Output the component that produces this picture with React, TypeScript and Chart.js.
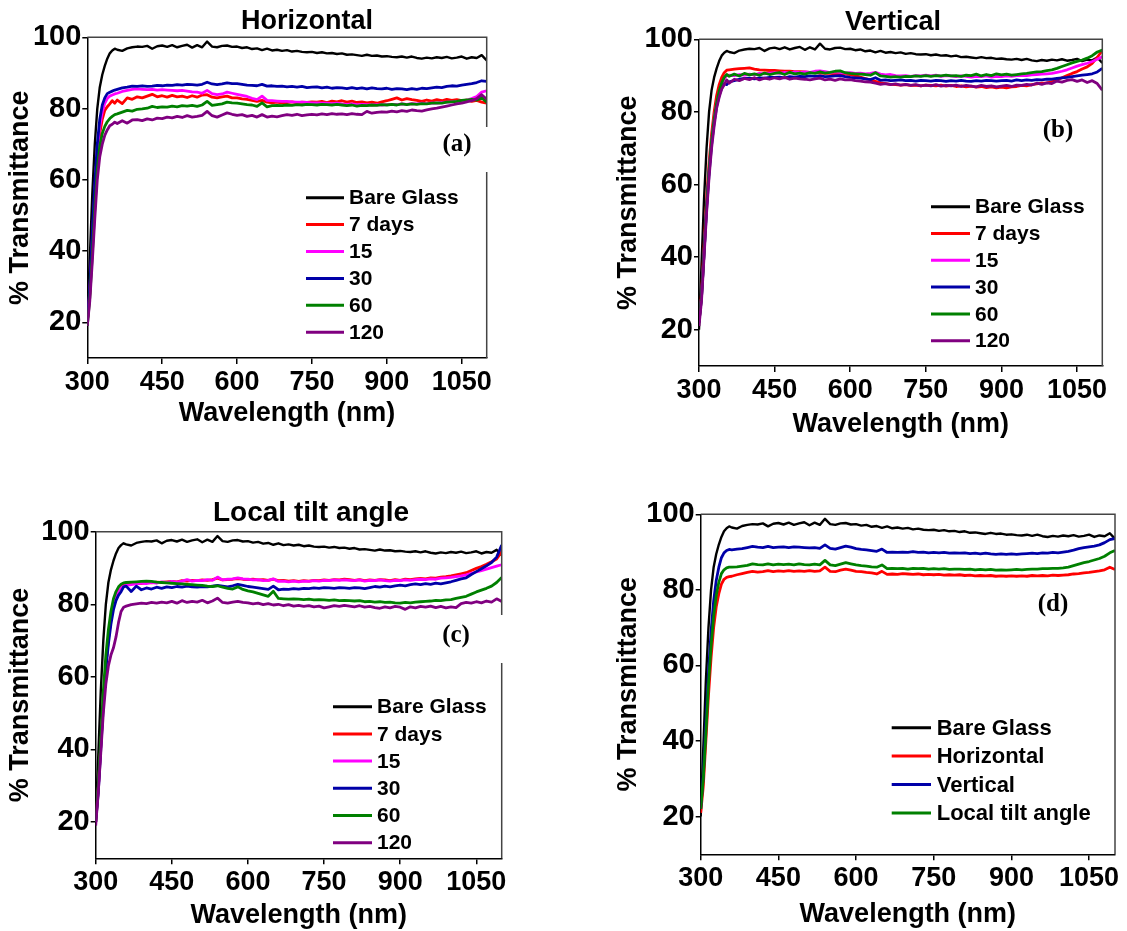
import React, { useEffect, useRef } from 'react';
import { Chart, registerables } from 'chart.js';

Chart.register(...registerables);

// ---------------- DATA ----------------
const WAVELENGTH = [
  300, 305, 310, 315, 320, 325, 330, 335, 340, 345, 350, 355, 360,
  370, 380, 390, 400, 410, 420, 430, 440, 450,
  460, 470, 480, 490, 500, 510, 520, 530, 540, 550,
  560, 570, 580, 590, 600, 610, 620, 630, 640, 650,
  660, 670, 680, 690, 700, 710, 720, 730, 740, 750,
  760, 770, 780, 790, 800, 810, 820, 830, 840, 850,
  860, 870, 880, 890, 900, 910, 920, 930, 940, 950,
  960, 970, 980, 990, 1000, 1010, 1020, 1030, 1040, 1050,
  1060, 1070, 1080, 1090, 1100,
];

const BARE_GLASS = [
  20, 38, 56, 70, 80, 86, 89.5, 92, 94, 95.5, 96.3, 96.8, 96.5,
  96.2, 96.9, 97.2, 97.4, 97.3, 97.6, 96.8, 97.5, 97.7,
  97.3, 97.8, 97.2, 97.6, 97.9, 97.1, 97.8, 97.2, 98.8, 97.4,
  97.2, 97.6, 97.7, 97.3, 97.4, 97.0, 97.2, 96.7, 96.9, 96.4,
  96.8, 96.3, 96.5, 96.2, 96.4, 96.0, 96.2, 95.9, 95.8, 95.9,
  95.6, 95.8, 95.5, 95.6, 95.3, 95.5, 95.1, 95.2, 95.0, 94.8,
  95.1, 94.8, 94.9, 94.6, 94.7, 94.5, 94.4, 94.6, 94.3, 94.6,
  94.2, 94.0, 94.3, 94.1, 94.4, 94.2, 94.5, 94.1, 94.3, 94.6,
  94.0, 94.4, 94.2, 95.0, 93.5,
];

// (a) Horizontal
const H_7_DAYS = [
  20, 28, 41, 55, 66, 73, 77, 79.5, 80.5, 81.3, 82.2, 81.5, 82.4,
  81.4, 83.0, 82.6, 83.3, 83.0, 83.5, 84.0, 83.3, 83.6,
  83.2, 83.7, 83.3, 83.5, 83.1, 83.6, 83.2, 83.8, 83.9, 83.2,
  83.0, 83.3, 83.5, 83.0, 83.0, 82.7, 82.6, 82.3, 82.0, 82.3,
  81.8, 81.6, 81.8, 81.5, 81.7, 81.9, 81.6, 81.8, 81.7, 81.9,
  81.8, 82.0, 81.7, 82.1, 81.9, 82.2, 81.8, 82.1, 81.7, 81.9,
  81.6, 81.8, 81.5, 81.9, 82.2, 82.6, 83.0, 82.4, 82.8, 82.5,
  82.3, 82.0, 82.4, 82.1, 82.5, 82.2, 82.6, 82.3, 82.5, 82.2,
  82.4, 82.0, 82.3, 81.8, 81.5,
];
const H_15 = [
  20, 29, 43, 57, 68, 75, 79, 81.5, 82.8, 83.5, 83.8, 84.1, 84.3,
  84.8, 85.1, 85.4, 85.5, 85.4, 85.3, 85.4, 85.2, 85.3,
  85.2, 85.1, 85.0, 85.1, 84.9, 84.7, 84.6, 84.3, 85.1, 84.2,
  83.9, 84.1, 84.6, 84.3, 84.0, 83.7, 83.4, 82.9, 82.5, 83.5,
  82.3, 82.2, 82.1, 82.0, 82.0, 81.9, 81.8, 81.8, 81.7, 81.6,
  81.6, 81.5, 81.5, 81.4, 81.5, 81.3, 81.2, 81.3, 81.1, 81.2,
  81.1, 81.0, 81.1, 81.0, 81.1, 81.2, 81.1, 81.3, 81.2, 81.4,
  81.3, 81.5, 81.4, 81.6, 81.5, 81.7, 81.8, 81.9, 82.0, 82.1,
  82.4, 82.8, 83.4, 84.6, 85.0,
];
const H_30 = [
  20, 30, 45, 59, 70, 77, 81, 83, 84.2, 84.6, 84.9, 85.2, 85.4,
  85.8, 86.0, 86.3, 86.2, 86.4, 86.2, 86.3, 86.5, 86.4,
  86.6, 86.5, 86.7, 86.6, 86.8, 86.7, 86.6, 86.8, 87.4, 86.9,
  86.7, 86.9, 87.2, 87.0, 87.0, 86.8, 86.6, 86.5, 86.4, 86.8,
  86.3, 86.4, 86.2, 86.3, 86.1, 86.2, 86.0, 86.2, 85.9, 86.0,
  86.1, 85.8, 86.0, 85.7, 85.9, 85.8, 85.6, 85.9, 85.6, 85.8,
  85.5, 85.8, 85.6, 85.5, 85.7, 85.4, 85.6, 85.5, 85.3, 85.6,
  85.4, 85.7, 85.6, 85.8, 86.0, 85.9, 86.2, 86.4, 86.3, 86.6,
  86.8, 87.0, 87.3, 87.8, 87.6,
];
const H_60 = [
  19, 27, 39, 52, 63, 69.5, 73, 75, 76.3, 77.2, 77.8, 78.3, 78.5,
  79.0, 79.5, 79.3, 79.8, 79.9, 80.1, 80.6, 80.3, 80.5,
  80.4, 80.7, 80.5, 80.8, 80.7, 80.9, 80.6, 81.0, 82.0, 80.9,
  81.1, 81.3, 81.8, 81.6, 81.5, 81.3, 81.1, 81.0, 80.6, 81.6,
  80.5, 80.8, 80.9, 80.8, 81.0, 80.9, 81.1, 81.0, 81.2, 81.1,
  81.0, 81.2, 81.1, 81.0, 81.2, 81.0, 80.8, 81.0, 80.7, 80.9,
  80.8, 81.0, 80.9, 81.1, 81.0, 81.2, 81.0, 81.3, 81.1, 81.3,
  81.2, 81.4, 81.3, 81.5, 81.6, 81.5, 81.8, 81.9, 82.0, 82.3,
  82.4, 82.6, 82.4, 83.0, 81.8,
];
const H_120 = [
  19, 26, 37, 49, 60, 66.5, 70, 72.5, 74, 75.2, 75.6, 76.2, 75.8,
  76.6, 75.9, 76.8, 76.9, 76.6, 77.1, 76.8, 77.3, 77.2,
  77.6, 77.4, 77.8, 77.5, 78.0, 77.6, 77.8, 78.1, 79.2, 78.0,
  77.6, 78.2, 78.8, 78.4, 78.1, 78.3, 77.8, 78.1, 77.6, 78.3,
  77.6, 77.9, 77.7, 78.0, 78.3, 78.1, 78.4, 78.0, 78.2, 78.4,
  78.2, 78.5, 78.3, 78.6, 78.4, 78.5, 78.3, 78.6, 78.4, 78.3,
  79.2, 78.7, 78.9, 79.1, 79.0, 79.3, 79.1, 79.4, 79.2, 79.6,
  79.4, 79.3, 79.6, 79.9, 80.1, 80.4, 80.7, 81.0, 81.3, 81.5,
  81.9, 82.2, 82.8, 83.9, 82.6,
];

// (b) Vertical
const V_7_DAYS = [
  22, 30, 43, 56, 66, 74, 80, 84.5, 87.5, 89.5, 90.8, 91.5, 91.6,
  91.8, 91.9, 92.0, 92.1, 91.8, 91.6, 91.5, 91.4, 91.4,
  91.3, 91.2, 91.2, 91.1, 91.1, 91.0, 90.9, 90.8, 90.7, 90.6,
  90.6, 90.5, 90.5, 90.4, 90.3, 90.0, 89.6, 89.2, 88.8, 88.4,
  88.0, 87.8, 87.6, 87.5, 87.4, 87.5, 87.3, 87.4, 87.2, 87.4,
  87.3, 87.2, 87.4, 87.1, 87.3, 87.0, 87.2, 86.9, 87.1, 86.8,
  87.0, 86.7, 86.9, 86.6, 86.8, 86.6, 86.9, 87.0, 87.3, 87.2,
  87.5, 87.7, 87.9, 88.0, 88.3, 88.8, 89.4, 90.0, 90.6, 91.1,
  91.8, 92.4, 93.4, 95.0, 97.0,
];
const V_15 = [
  22, 29, 41, 54, 64, 72, 78, 82.5, 85.5, 87.8, 89.2, 90.0, 90.1,
  90.0, 90.3, 90.1, 90.4, 90.2, 90.6, 90.5, 90.7, 90.8,
  90.6, 90.9, 90.7, 91.0, 90.8, 91.0, 90.9, 91.2, 91.3, 91.1,
  90.8, 91.0, 90.9, 90.7, 90.8, 90.6, 90.7, 90.5, 90.6, 90.9,
  90.4, 90.2, 90.3, 90.0, 89.9, 90.0, 89.8, 90.0, 89.9, 90.1,
  89.9, 90.1, 89.8, 90.0, 89.9, 89.7, 89.9, 89.8, 89.6, 89.8,
  89.7, 89.9, 89.6, 89.8, 89.7, 89.9, 89.8, 90.0, 90.1, 90.0,
  90.2, 90.3, 90.4, 90.5, 90.6, 90.9, 91.2, 91.6, 92.1, 92.6,
  93.0, 93.4, 93.9, 94.5, 95.2,
];
const V_30 = [
  22, 29, 41, 53, 63, 71, 77, 81.5, 84.5, 86.5, 87.8, 87.5, 88.3,
  88.6, 89.0, 89.2, 89.3, 89.1, 89.4, 89.3, 89.5, 89.5,
  89.6, 89.4, 89.7, 89.6, 89.8, 89.7, 89.9, 89.8, 89.9, 89.7,
  89.8, 89.9, 90.0, 89.7, 89.5, 89.4, 89.3, 89.1, 88.9, 89.4,
  88.7, 88.8, 88.6, 88.7, 88.8, 88.6, 88.7, 88.5, 88.7, 88.6,
  88.5, 88.7, 88.6, 88.4, 88.6, 88.5, 88.7, 88.5, 88.4, 88.6,
  88.5, 88.7, 88.6, 88.5, 88.6, 88.7, 88.5, 88.8, 88.6, 88.8,
  88.7, 88.9, 88.8, 89.0, 89.0, 89.2, 89.4, 89.5, 89.7, 89.9,
  90.1, 90.3, 90.5, 91.0, 92.0,
];
const V_60 = [
  22, 29, 41, 54, 64, 72, 78, 82.5, 85.8, 88, 89.5, 90.3, 89.8,
  90.4, 89.9, 90.6, 90.2, 90.5, 90.1, 90.7, 90.3, 90.6,
  90.8, 90.3, 90.9, 90.5, 90.7, 90.4, 90.8, 90.6, 91.0, 90.7,
  90.9, 91.2, 91.3, 90.8, 90.6, 90.5, 90.4, 90.3, 90.1, 90.8,
  89.9, 89.8, 89.6, 89.7, 89.6, 89.8, 89.7, 89.9, 89.8, 90.0,
  89.8, 90.0, 89.9, 90.1, 89.9, 90.0, 89.8, 90.1, 90.0, 90.4,
  89.9, 90.3, 90.0, 90.5, 90.2, 90.4, 90.1, 90.3, 90.5, 90.6,
  90.8, 91.0, 91.1, 91.4, 91.6, 92.0, 92.5, 93.0, 93.5, 93.9,
  94.3, 94.8, 95.5, 96.5, 97.0,
];
const V_120 = [
  21, 28, 40, 52, 62, 70, 76, 81, 84, 86.3, 87.5, 88.8, 87.9,
  89.0, 88.6, 89.2, 88.9, 89.4, 88.8, 89.3, 89.0, 89.4,
  89.1, 89.5, 89.0, 89.3, 89.1, 89.0, 88.8, 89.1, 89.3, 88.8,
  89.0, 88.7, 89.1, 88.8, 88.9, 88.6, 88.5, 88.3, 88.2, 87.9,
  87.6, 87.8, 87.5, 87.7, 87.4, 87.6, 87.3, 87.5, 87.2, 87.4,
  87.2, 87.5, 87.1, 87.3, 87.2, 87.4, 87.0, 87.3, 87.1, 86.9,
  87.3, 87.0, 87.2, 86.9, 87.1, 87.3, 87.0, 87.4, 87.3, 87.6,
  87.4, 87.9, 87.6, 88.0, 87.8, 88.5, 88.2, 88.7, 88.9, 88.4,
  88.8, 88.1, 88.6, 87.8, 86.0,
];

// (c) Local tilt angle
const T_7_DAYS = [
  20, 29, 41, 53, 63, 70.5, 76, 80, 82.5, 84, 84.8, 85.2, 85.4,
  85.6, 85.8, 85.7, 86.0, 85.9, 86.1, 86.0, 86.2, 86.3,
  86.2, 86.5, 86.4, 86.6, 86.5, 86.7, 86.6, 86.8, 87.2, 86.7,
  86.8, 86.9, 87.1, 86.9, 86.8, 86.9, 86.7, 86.8, 86.6, 86.9,
  86.5, 86.6, 86.4, 86.5, 86.3, 86.5, 86.4, 86.6, 86.5, 86.7,
  86.6, 86.8, 86.7, 86.9, 86.8, 86.6, 86.8, 86.5, 86.7, 86.6,
  86.8, 86.7, 86.5, 86.8, 86.6, 86.9, 86.8, 87.0, 87.1, 87.0,
  87.3, 87.2, 87.5, 87.6, 87.8, 88.1, 88.4, 88.7, 89.3, 89.9,
  90.4, 91.0, 91.7, 92.5, 94.5,
];
const T_15 = [
  20, 29, 41, 53, 63, 70.5, 76, 80, 82.5, 83.9, 84.6, 85.0, 85.2,
  85.4, 85.6, 85.8, 85.7, 86.0, 85.8, 86.2, 86.0, 86.3,
  86.1, 86.4, 86.8, 86.4, 86.6, 86.5, 86.8, 86.6, 87.5, 86.7,
  86.9, 87.0, 87.3, 87.0, 86.9, 86.7, 86.8, 86.5, 86.6, 87.0,
  86.3, 86.4, 86.2, 86.4, 86.2, 86.4, 86.3, 86.5, 86.4, 86.6,
  86.5, 86.7, 86.6, 86.7, 86.6, 86.5, 86.7, 86.4, 86.6, 86.5,
  86.7, 86.5, 86.4, 86.6, 86.5, 86.7, 86.6, 86.8, 86.9, 86.8,
  87.0, 86.9, 87.2, 87.3, 87.4, 87.6, 87.8, 88.1, 88.5, 88.9,
  89.3, 89.7, 90.1, 90.5, 90.9,
];
const T_30 = [
  20, 28, 40, 52, 62, 69, 74.5, 78.5, 81, 82.5, 83.5, 84.8, 85.0,
  83.5, 85.0, 84.0, 84.5, 84.2, 84.7, 84.4, 84.8, 84.6,
  84.9, 84.7, 85.0, 84.8, 84.7, 84.9, 84.8, 85.0, 85.2, 85.0,
  84.8, 85.1, 85.5, 85.2, 84.9, 84.7, 84.5, 84.3, 84.1, 85.0,
  84.0, 84.2, 84.1, 84.3, 84.2, 84.4, 84.3, 84.5, 84.4, 84.6,
  84.5, 84.4, 84.6, 84.5, 84.4, 84.6, 84.5, 84.3, 84.6, 84.9,
  84.7, 85.0, 84.8, 85.1, 85.3, 85.1, 85.4, 85.6, 85.4, 85.7,
  85.5, 85.8, 85.6, 85.9, 86.2, 86.6, 87.0, 87.3, 88.2, 89.0,
  89.8, 90.6, 91.5, 93.0, 96.3,
];
const T_60 = [
  20, 30, 43, 56, 66, 73, 78, 81.5, 83.5, 84.8, 85.5, 85.9, 86.0,
  86.1, 86.2, 86.3, 86.4, 86.3, 86.1, 86.0, 85.9, 85.8,
  85.7, 85.6, 85.5, 85.4, 85.3, 85.2, 85.0, 84.9, 85.1, 84.7,
  84.4, 84.2, 84.8, 84.1, 83.7, 83.4, 83.0, 82.6, 82.2, 83.6,
  81.6, 81.5, 81.4, 81.5, 81.4, 81.3, 81.4, 81.2, 81.3, 81.2,
  81.1, 81.2, 81.0, 81.1, 81.0, 80.9, 81.0, 80.7, 80.8, 80.6,
  80.7, 80.5, 80.6, 80.4, 80.3, 80.5, 80.4, 80.6, 80.7, 80.8,
  80.9, 81.1, 81.0, 81.2, 81.3, 81.6, 81.9, 82.2, 82.8, 83.4,
  83.9, 84.4, 85.0, 86.0, 87.4,
];
const T_120 = [
  19, 28, 39, 50, 58, 63, 66, 68, 71, 75, 78, 79.2, 79.5,
  79.9, 80.1, 80.3, 80.2, 80.5, 80.3, 80.6, 80.4, 80.8,
  80.3, 81.0, 80.5, 80.8, 80.6, 81.1, 80.4, 80.9, 81.7, 80.5,
  80.3, 80.6, 80.8, 80.5, 80.4, 80.1, 80.3, 79.9, 80.2, 79.8,
  80.0, 79.6, 79.9, 79.5, 79.7, 79.4, 79.6, 79.3, 79.5, 79.0,
  79.3, 79.6, 79.4, 79.7, 79.5, 79.3, 79.6, 79.2, 79.4, 79.1,
  78.9, 79.3, 79.0, 79.4, 79.2, 78.6, 79.3, 79.0, 79.4, 79.2,
  79.5, 79.1, 79.4, 79.0, 79.3, 79.1, 80.2, 80.5, 80.3, 80.7,
  80.4, 80.9, 80.6, 81.5, 80.8,
];

// (d) Comparison
const D_HORIZONTAL = [
  21, 28, 40, 52, 62, 70, 75.5, 79, 81.5, 82.8, 83.3, 83.5, 83.6,
  84.0, 84.3, 84.6, 84.9, 84.7, 84.8, 85.1, 84.8, 85.0,
  84.9, 85.1, 84.9, 85.0, 84.9, 85.1, 84.9, 85.0, 86.0, 84.9,
  84.8, 85.2, 85.5, 85.2, 84.9, 84.8, 84.6, 84.5, 84.2, 84.9,
  84.1, 84.2, 84.1, 84.3, 84.2, 84.1, 84.2, 84.0, 84.1, 84.0,
  84.1, 83.9, 84.0, 83.9, 84.0, 83.8, 83.9, 83.7, 83.8, 83.7,
  83.8, 83.6, 83.7, 83.6, 83.7, 83.6, 83.7, 83.6, 83.8, 83.7,
  83.8, 83.7, 83.9, 83.8, 83.9, 84.0, 84.2, 84.3, 84.5, 84.6,
  84.8, 85.0, 85.3, 86.0, 85.4,
];
const D_VERTICAL = [
  22, 31, 45, 58, 69, 77, 82.5, 86, 88.5, 89.8, 90.4, 90.7, 90.6,
  90.8, 90.9, 91.2, 91.5, 91.3, 91.2, 91.5, 91.2, 91.3,
  91.4, 91.2, 91.4, 91.3, 91.2, 91.1, 91.2, 91.0, 91.9, 91.0,
  90.8, 91.2, 91.6, 91.3, 90.9, 90.7, 90.6, 90.4, 90.2, 90.8,
  89.9, 90.0, 89.9, 90.0, 89.9, 90.1, 89.9, 90.0, 89.8, 89.9,
  89.8, 89.9, 89.7, 89.8, 89.7, 89.8, 89.6, 89.7, 89.5, 89.7,
  89.5, 89.4, 89.5, 89.4, 89.5, 89.4, 89.5, 89.6, 89.7, 89.6,
  89.8, 89.7, 89.9, 89.8, 90.0, 90.2, 90.5, 90.9, 91.2, 91.4,
  91.6, 91.9, 92.5, 93.3, 93.6,
];
const D_LOCAL_TILT = [
  22, 30, 42, 55, 65, 73, 78.5, 82, 84.3, 85.3, 85.8, 86.0, 86.0,
  86.1, 86.3, 86.5, 86.9, 86.7, 86.6, 86.9, 86.6, 86.8,
  86.7, 86.8, 86.6, 86.9, 86.7, 86.6, 86.8, 86.6, 87.8, 86.6,
  86.4, 86.8, 87.2, 86.9, 86.6, 86.4, 86.3, 86.1, 86.0, 86.6,
  85.6, 85.7, 85.6, 85.7, 85.5, 85.7, 85.6, 85.7, 85.5, 85.6,
  85.5, 85.6, 85.4, 85.5, 85.5, 85.4, 85.5, 85.3, 85.4, 85.3,
  85.4, 85.2, 85.3, 85.2, 85.3, 85.4, 85.3, 85.4, 85.5, 85.5,
  85.6, 85.6, 85.7, 85.7, 85.8, 86.0, 86.4, 86.8, 87.2, 87.5,
  87.9, 88.3, 88.9, 89.8, 90.4,
];

const AGING_LABELS = ['Bare Glass', '7 days', '15', '30', '60', '120'];
const COMPARE_LABELS = ['Bare Glass', 'Horizontal', 'Vertical', 'Local tilt angle'];
const AGING_COLORS = ['#000000', '#ff0000', '#ff00ff', '#0000a8', '#008000', '#800080'];
const COMPARE_COLORS = ['#000000', '#ff0000', '#0000a8', '#008000'];

const PANEL_TITLES = ['Horizontal', 'Vertical', 'Local tilt angle', ''];
const PANEL_LETTERS = ['(a)', '(b)', '(c)', '(d)'];
const X_AXIS_TITLE = 'Wavelength (nm)';
const Y_AXIS_TITLE = '% Transmittance';

// ---------------- LAYOUT ----------------
type Spec = {
  cx: number; cy: number; cw: number; ch: number;
  plot: { l: number; t: number; r: number; b: number };
  xTitleY: number; yTitleX: number;
  title: string; titleX: number; titleY: number; titleSize: number;
  letter: string; letterX: number; letterY: number;
  legend: { x1: number; x2: number; tx: number; y0: number; dy: number; size: number };
  gap?: { x: number; y: number; w: number; h: number };
  labels: string[]; colors: string[]; series: number[][];
};

const SPECS: Spec[] = [
  {
    cx: 0, cy: 0, cw: 560, ch: 450,
    plot: { l: 87.3, t: 37.3, r: 486.7, b: 358 },
    xTitleY: 414, yTitleX: 21,
    title: PANEL_TITLES[0], titleX: 307, titleY: 22, titleSize: 27,
    letter: PANEL_LETTERS[0], letterX: 457, letterY: 145,
    legend: { x1: 306, x2: 344, tx: 349, y0: 197.7, dy: 26.9, size: 21 },
    gap: { x: 425, y: 127, w: 67, h: 45 },
    labels: AGING_LABELS, colors: AGING_COLORS,
    series: [BARE_GLASS, H_7_DAYS, H_15, H_30, H_60, H_120],
  },
  {
    cx: 609, cy: 0, cw: 518, ch: 450,
    plot: { l: 699, t: 39.3, r: 1102.3, b: 366 },
    xTitleY: 425, yTitleX: 629,
    title: PANEL_TITLES[1], titleX: 893, titleY: 22.5, titleSize: 27,
    letter: PANEL_LETTERS[1], letterX: 1058, letterY: 131,
    legend: { x1: 931, x2: 970, tx: 975, y0: 206.7, dy: 26.8, size: 21 },
    labels: AGING_LABELS, colors: AGING_COLORS,
    series: [BARE_GLASS, V_7_DAYS, V_15, V_30, V_60, V_120],
  },
  {
    cx: 0, cy: 455, cw: 560, ch: 476,
    plot: { l: 95.7, t: 531.7, r: 501.7, b: 858.3 },
    xTitleY: 916, yTitleX: 21,
    title: PANEL_TITLES[2], titleX: 311, titleY: 513, titleSize: 28,
    letter: PANEL_LETTERS[2], letterX: 456, letterY: 636,
    legend: { x1: 333, x2: 372, tx: 377, y0: 706.7, dy: 27.2, size: 21 },
    gap: { x: 430, y: 615, w: 76, h: 48 },
    labels: AGING_LABELS, colors: AGING_COLORS,
    series: [BARE_GLASS, T_7_DAYS, T_15, T_30, T_60, T_120],
  },
  {
    cx: 609, cy: 455, cw: 518, ch: 476,
    plot: { l: 700.7, t: 514.3, r: 1115, b: 854.3 },
    xTitleY: 915, yTitleX: 629,
    title: PANEL_TITLES[3], titleX: 0, titleY: 0, titleSize: 27,
    letter: PANEL_LETTERS[3], letterX: 1053, letterY: 605,
    legend: { x1: 891.7, x2: 931, tx: 936.7, y0: 727.7, dy: 28.4, size: 22 },
    labels: COMPARE_LABELS, colors: COMPARE_COLORS,
    series: [BARE_GLASS, D_HORIZONTAL, D_VERTICAL, D_LOCAL_TILT],
  },
];

const SANS = 'Liberation Sans, Arial, sans-serif';
const SERIF = 'Liberation Serif, Times New Roman, serif';
const AXIS_TITLE_SIZE = 27;

function makeDecor(spec: Spec) {
  return {
    id: 'panelDecor',
    afterDraw(chart: any) {
      const { ctx, chartArea: a } = chart;
      const ox = spec.cx, oy = spec.cy;
      ctx.save();
      // top and right frame
      ctx.strokeStyle = '#444';
      ctx.lineWidth = 1.5;
      ctx.beginPath();
      ctx.moveTo(a.left, a.top);
      ctx.lineTo(a.right, a.top);
      ctx.lineTo(a.right, a.bottom);
      ctx.stroke();
      // white box behind the panel letter (hides part of the right spine)
      if (spec.gap) {
        ctx.fillStyle = '#ffffff';
        ctx.fillRect(spec.gap.x - ox, spec.gap.y - oy, spec.gap.w, spec.gap.h);
      }
      // panel letter
      ctx.fillStyle = '#000';
      ctx.font = `bold 25px ${SERIF}`;
      ctx.textAlign = 'center';
      ctx.textBaseline = 'middle';
      ctx.fillText(spec.letter, spec.letterX - ox, spec.letterY - oy);
      // title
      if (spec.title) {
        ctx.font = `bold ${spec.titleSize}px ${SANS}`;
        ctx.fillText(spec.title, spec.titleX - ox, spec.titleY - oy);
      }
      // legend
      const lg = spec.legend;
      ctx.font = `bold ${lg.size}px ${SANS}`;
      ctx.textAlign = 'left';
      chart.data.datasets.forEach((ds: any, i: number) => {
        const y = lg.y0 + i * lg.dy - oy;
        ctx.strokeStyle = ds.borderColor;
        ctx.lineWidth = 3;
        ctx.beginPath();
        ctx.moveTo(lg.x1 - ox, y);
        ctx.lineTo(lg.x2 - ox, y);
        ctx.stroke();
        ctx.fillStyle = '#000';
        ctx.fillText(ds.label, lg.tx - ox, y + 1);
      });
      ctx.restore();
    },
  };
}

function Panel({ spec }: { spec: Spec }) {
  const ref = useRef<HTMLCanvasElement>(null);
  useEffect(() => {
    const p = spec.plot;
    const yWidth = p.l - spec.cx;
    const padTop = p.t - spec.cy;
    const padRight = spec.cx + spec.cw - p.r;
    const scaleBottom = spec.xTitleY + AXIS_TITLE_SIZE / 2;
    const padBottom = spec.cy + spec.ch - scaleBottom;
    const xHeight = scaleBottom - p.b;
    const yTitlePad = spec.yTitleX - spec.cx - AXIS_TITLE_SIZE / 2;

    const datasets = spec.series.map((vals, i) => ({
      label: spec.labels[i],
      data: WAVELENGTH.map((x, j) => ({ x, y: vals[j] })),
      borderColor: spec.colors[i],
      backgroundColor: spec.colors[i],
      borderWidth: i === 0 ? 2.4 : 2.8,
      pointRadius: 0,
      tension: 0,
      fill: false,
      order: -i,
      borderJoinStyle: 'round',
    }));

    const chart = new Chart(ref.current!, {
      type: 'line',
      data: { datasets },
      options: {
        animation: false,
        responsive: false,
        maintainAspectRatio: false,
        events: [],
        layout: { padding: { left: 0, top: padTop, right: padRight, bottom: padBottom } },
        plugins: {
          legend: { display: false },
          tooltip: { enabled: false },
          title: { display: false },
        },
        scales: {
          x: {
            type: 'linear',
            min: 300,
            max: 1100,
            ticks: {
              stepSize: 150,
              includeBounds: false,
              autoSkip: false,
              maxRotation: 0,
              padding: 2,
              color: '#000',
              font: { family: SANS, weight: 'bold', size: 27 },
              callback: (v: any) => String(v),
            },
            grid: { display: true, drawOnChartArea: false, drawTicks: true, tickLength: 6, color: '#000', lineWidth: 1.5 },
            border: { display: true, color: '#000', width: 1.5 },
            title: {
              display: true,
              text: X_AXIS_TITLE,
              color: '#000',
              font: { family: SANS, weight: 'bold', size: AXIS_TITLE_SIZE, lineHeight: 1 },
              padding: { top: 0, bottom: 0 },
            },
            afterFit: (s: any) => { s.height = xHeight; },
          },
          y: {
            type: 'linear',
            min: 10,
            max: 100,
            ticks: {
              stepSize: 20,
              includeBounds: false,
              padding: 1,
              color: '#000',
              font: { family: SANS, weight: 'bold', size: 29 },
              callback: (v: any) => String(v),
            },
            grid: { display: true, drawOnChartArea: false, drawTicks: true, tickLength: 5, color: '#000', lineWidth: 1.5 },
            border: { display: true, color: '#000', width: 1.5 },
            title: {
              display: true,
              text: Y_AXIS_TITLE,
              color: '#000',
              font: { family: SANS, weight: 'bold', size: AXIS_TITLE_SIZE, lineHeight: 1 },
              padding: { top: yTitlePad, bottom: 0 },
            },
            afterFit: (s: any) => { s.width = yWidth; },
          },
        },
      } as any,
      plugins: [makeDecor(spec)],
    });
    return () => chart.destroy();
  }, [spec]);
  return (
    <canvas
      ref={ref}
      width={spec.cw}
      height={spec.ch}
      style={{ position: 'absolute', left: spec.cx, top: spec.cy, width: spec.cw, height: spec.ch }}
    />
  );
}

export default function App() {
  return (
    <div style={{ position: 'absolute', left: 0, top: 0, width: 1127, height: 931, background: '#fff' }}>
      {SPECS.map((s, i) => (
        <Panel key={i} spec={s} />
      ))}
    </div>
  );
}
